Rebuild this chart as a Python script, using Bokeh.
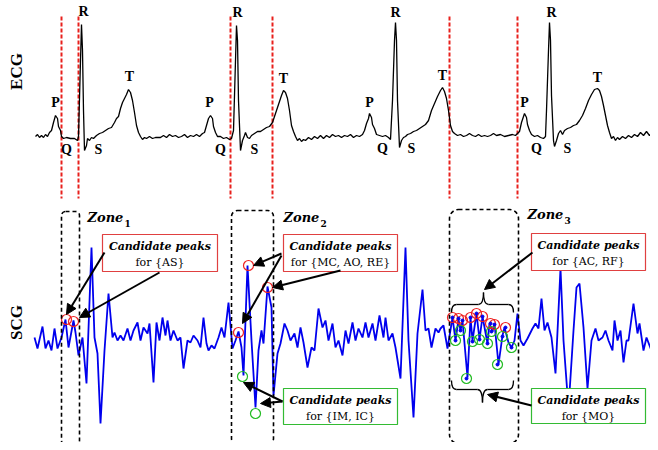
import math
from bokeh.plotting import figure
from bokeh.models import Range1d, Arrow, NormalHead, BoxAnnotation
from bokeh.core.properties import value
from bokeh.embed import file_html
from bokeh.resources import INLINE

# ---------------- data (image-space coordinates) ----------------
ecg_x = [35,37,39,41,43,45,47,49,51,53,55,57,58,60,61,63,66,70,74,77,78,80,81,82,83,84,86,87,89,91,93,96,99,102,105,108,111,114,116,118,120,122,124,126,128,130,132,134,136,138,140,142,144,146,149,152,155,160,163,166,169,172,175,178,181,184,187,190,193,196,199,202,204,206,208,210,212,213,215,217,220,223,226,229,231,233,235,236,237,238,240,242,244,245,247,249,251,254,257,260,263,266,269,272,275,278,281,283,285,287,289,291,293,295,297,299,301,303,305,308,311,314,317,320,323,326,329,332,335,338,341,344,347,350,353,356,359,362,364,366,368,369,371,372,374,376,379,382,385,388,390,392,394,395,396,397,399,401,403,405,407,410,413,416,419,422,425,428,431,434,437,440,442,444,446,448,450,452,454,457,460,463,466,469,472,475,478,481,484,487,490,493,496,500,504,508,512,515,517,519,521,523,524,526,527,529,531,534,537,540,543,545,546,548,549,550,551,553,554,556,558,560,562,564,567,570,573,576,579,582,585,588,591,594,597,599,601,603,605,607,609,611,613,615,617,619,622,625,628,631,634,637,640,643,646,649,652,655,657]
ecg_y = [136,134,137,135,137,134,136,132,130,122,115,118,126,130,136,138,137,138,138,140,136,60,24,50,110,150,145,138,140,137,138,135,133,132,130,128,127,122,118,116,108,102,98,94,89,92,100,112,125,132,136,139,137,138,136,138,137,137,135,137,134,136,135,137,136,134,137,135,136,134,136,133,132,125,118,115,118,126,132,136,136,138,137,139,138,130,60,25,40,100,150,140,135,132,137,138,135,133,131,131,129,127,126,122,113,104,95,90,92,98,110,125,131,136,140,138,141,139,140,137,139,136,138,135,138,135,137,134,136,135,137,135,136,134,137,135,136,134,130,123,118,113,117,124,128,134,135,136,135,137,139,100,40,22,40,100,147,140,137,136,134,133,131,130,128,126,124,120,110,103,96,90,87,91,98,110,125,131,133,135,134,136,135,133,135,136,134,136,135,136,135,133,135,134,136,135,134,135,133,131,122,116,113,117,124,130,134,136,135,137,138,136,110,50,22,40,95,140,146,140,133,130,134,130,128,127,125,124,120,115,108,100,94,89,88,90,96,105,115,125,132,138,136,140,137,139,136,138,135,137,134,136,132,135,131,135,132,134,131]

scg_x = [34,37,42,45,48,51,54,57,61,65,68,73,75,78,82,86,91,94,97,100,104,108,112,114,117,120,123,127,130,133,137,140,143,147,149,153,156,159,162,165,167,170,173,177,180,183,187,190,193,197,200,203,206,208,211,214,218,221,224,228,232,235,238,241,243,247,251,255,258,261,263,267,271,273,277,280,284,287,290,294,297,300,303,307,311,314,318,322,325,328,332,335,338,342,345,348,352,355,358,362,365,368,372,375,379,383,385,388,392,395,400,405,408,413,417,422,425,428,431,435,438,440,443,447,452,455,458,460,462,467,470,472,476,479,482,487,489,492,494,498,502,504,508,511,514,517,520,523,527,532,535,538,541,544,547,551,555,560,563,568,573,576,579,583,587,591,595,598,602,605,608,612,614,617,620,623,626,628,633,637,639,643,646,649,653,656]
scg_y = [337,348,326,348,340,350,328,348,337,319,347,320,332,355,337,383,247,337,353,423,350,293,337,332,340,335,340,328,340,330,322,340,327,333,323,382,322,340,317,335,320,340,330,340,337,368,340,342,335,340,347,317,343,350,345,348,337,327,337,302,348,340,331,347,375,265,340,407,350,330,343,286,307,395,353,343,323,330,340,333,347,327,342,367,347,350,308,327,320,340,323,347,340,355,330,343,322,340,328,337,322,337,323,340,315,337,317,340,333,347,378,247,340,417,333,289,330,328,347,328,332,328,325,348,317,340,319,330,320,377,317,340,313,339,316,343,323,331,323,364,335,327,342,347,340,313,340,345,338,328,323,328,298,330,322,337,373,268,340,408,330,287,283,327,388,340,328,340,337,330,340,350,320,340,330,362,340,340,303,333,323,350,337,345,355,340]

ecg_peak_labels = ["P","Q","R","S","T"] * 4
ecg_label_x = [55,66,83,98,129, 209,220,237,254,283, 369,382,395,411,442, 524,536,551,567,597]
ecg_label_y = [102,149,11,149,76, 102,149,12,149,78, 102,148,12,148,75, 102,148,12,148,77]

red_dash_x = [61, 78, 230, 272, 449, 517]

red_pk_x = [66, 73, 248, 238, 267, 452, 458, 462, 470, 476, 482, 490, 494, 505]
red_pk_y = [319, 321, 265, 332, 287, 317, 318, 320, 317, 313, 316, 323, 324, 327]
green_pk_x = [242, 255, 455, 460, 466, 472, 479, 487, 491, 497, 502, 511]
green_pk_y = [376, 413, 340, 330, 378, 341, 339, 343, 331, 364, 336, 347]

zone_names = ["Zone", "Zone", "Zone"]
zone_subs = ["1", "2", "3"]
box_line1 = ["Candidate peaks"] * 5
box_line2 = ["for {AS}", "for {MC, AO, RE}", "for {AC, RF}", "for {IM, IC}", "for {MO}"]

# ---------------- figure ----------------
W, H = 650, 442
p = figure(width=W, height=H, x_range=Range1d(0, W), y_range=Range1d(H, 0),
           output_backend="svg", toolbar_location=None, min_border=0)
p.axis.visible = False
p.grid.visible = False
p.outline_line_color = None
p.background_fill_color = "white"

# red dashed lines
for x in red_dash_x:
    p.line([x, x], [16, 198], line_color="#e8201c", line_width=2, line_dash="4 2")

# ECG
p.line(ecg_x, ecg_y, line_color="black", line_width=1.3)

# SCG
p.line(scg_x, scg_y, line_color="#0000ee", line_width=1.8)

# zone boxes
zone_boxes = [(61, 79, 211, 444, 4), (231, 273, 210, 444, 6), (449, 518, 209, 443, 9)]
for l, r, t, b, rad in zone_boxes:
    p.add_layout(BoxAnnotation(left=l, right=r, top=t, bottom=b, fill_alpha=0,
                               line_color="black", line_alpha=1.0, line_width=1.6,
                               line_dash="4 3", border_radius=rad))

# zone labels
zone_pos = [(87, 217), (283, 217), (527, 214)]
for (zx, zy), nm, sb in zip(zone_pos, zone_names, zone_subs):
    p.text([zx], [zy], text=[nm], text_font=value("DejaVu Serif"), text_font_style="bold italic",
           text_font_size="13px", text_baseline="middle", text_align="left", text_color="black")
    p.text([zx + 37], [zy + 6], text=[sb], text_font=value("DejaVu Serif"), text_font_style="bold",
           text_font_size="9px", text_baseline="middle", text_align="left", text_color="black")

# text boxes
boxes = [(102, 217, 234, 271, "#e04040"), (283, 397, 234, 271, "#e04040"),
         (531, 645, 233, 270, "#e04040"), (283, 397, 388, 424, "#33bb33"),
         (531, 645, 388, 423, "#33bb33")]
for (l, r, t, b, c), t1, t2 in zip(boxes, box_line1, box_line2):
    p.quad(left=[l], right=[r], top=[t], bottom=[b], fill_color="white",
           line_color=c, line_width=1.2)
    cx = (l + r) / 2
    p.text([cx], [t + 12], text=[t1], text_font=value("DejaVu Serif"), text_font_style="bold italic",
           text_font_size="11px", text_align="center", text_baseline="middle", text_color="black")
    p.text([cx], [t + 28], text=[t2], text_font=value("DejaVu Serif"),
           text_font_size="11px", text_align="center", text_baseline="middle", text_color="black")

# circles
p.scatter(red_pk_x, red_pk_y, marker="circle", size=10, fill_alpha=0, line_color="#ee2222", line_width=1.2)
p.scatter(green_pk_x, green_pk_y, marker="circle", size=10, fill_alpha=0, line_color="#22bb22", line_width=1.2)
z3r = [i for i, x in enumerate(red_pk_x) if x > 440]
z3g = [i for i, x in enumerate(green_pk_x) if x > 440]
p.scatter([red_pk_x[i] for i in z3r] + [green_pk_x[i] for i in z3g],
          [red_pk_y[i] for i in z3r] + [green_pk_y[i] for i in z3g],
          marker="circle", size=3, fill_color="#0000ee", line_color="#0000ee")

# braces
def brace(y_line, y_end, y_tip, xl, xm, xr):
    p.quadratic(x0=[xl, xm - 5, xm + 5, xr - 5], y0=[y_end, y_line, y_line, y_line],
                x1=[xl + 5, xm, xm, xr], y1=[y_line, y_tip, y_tip, y_end],
                cx=[xl, xm, xm, xr], cy=[y_line, y_line, y_line, y_line],
                line_color="black", line_width=1.3)
    p.line([xl + 5, xm - 5], [y_line, y_line], line_color="black", line_width=1.3)
    p.line([xm + 5, xr - 5], [y_line, y_line], line_color="black", line_width=1.3)

brace(304, 312, 292, 451, 483, 513)
brace(389, 380, 402, 451, 482, 513)

# arrows
arrows = [(104, 252, 66, 314), (159, 272, 79, 317),
          (281, 253, 253, 265), (281, 255, 242, 323), (340, 270, 272, 287),
          (282, 401, 243, 382), (282, 401, 260, 403),
          (532, 252, 484, 289), (531, 405, 487, 394)]
for x0, y0, x1, y1 in arrows:
    p.add_layout(Arrow(end=NormalHead(size=10, fill_color="black", line_color="black"),
                       x_start=x0, y_start=y0, x_end=x1, y_end=y1,
                       line_color="black", line_width=2))

# PQRST labels
p.text(ecg_label_x, ecg_label_y, text=ecg_peak_labels, text_font=value("Liberation Serif"),
       text_font_style="bold", text_font_size="14px", text_align="center",
       text_baseline="middle", text_color="black")

# side labels
p.text([16], [71], text=["ECG"], angle=math.pi / 2, text_font=value("Liberation Serif"),
       text_font_style="bold", text_font_size="17px", text_align="center",
       text_baseline="middle", text_color="black")
p.text([16], [322], text=["SCG"], angle=math.pi / 2, text_font=value("Liberation Serif"),
       text_font_style="bold", text_font_size="17px", text_align="center",
       text_baseline="middle", text_color="black")

open("out.html", "w").write(file_html(p, INLINE))
